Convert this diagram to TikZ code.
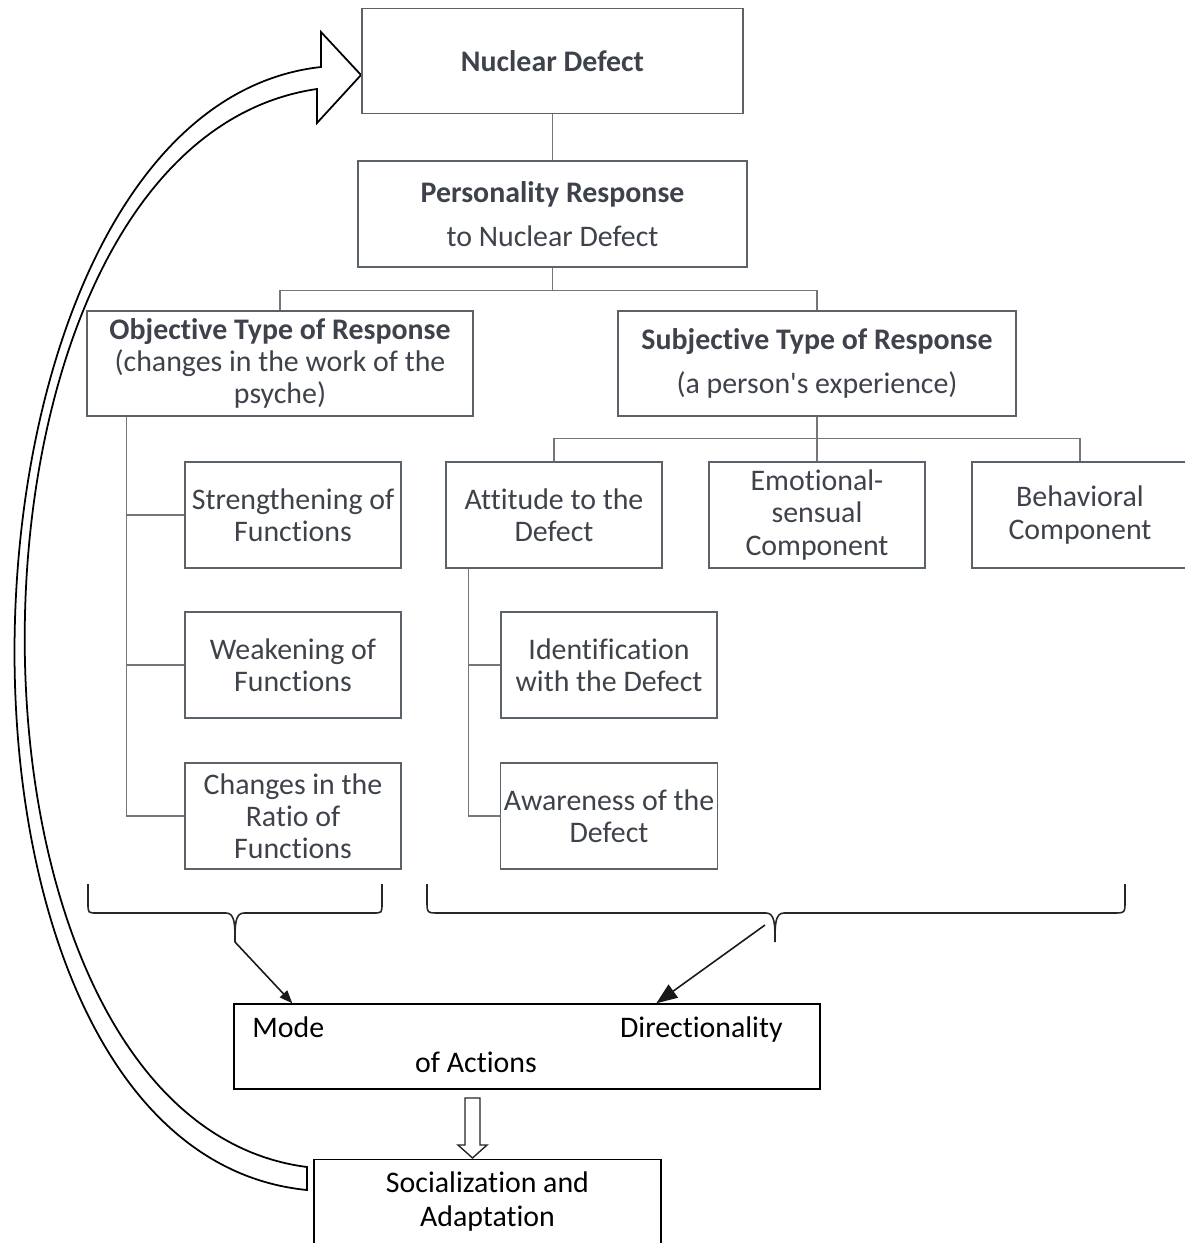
\documentclass[tikz,border=0pt]{standalone}
\usepackage{fontspec}
\setmainfont{Carlito}[Ligatures=NoCommon]
\usetikzlibrary{arrows.meta}
\definecolor{txtgray}{RGB}{62,66,74}
\definecolor{boxgray}{RGB}{92,98,106}
\definecolor{lnkgray}{RGB}{118,118,118}

\begin{document}
\begin{tikzpicture}[x=0.02cm,y=-0.02cm,
    box/.style={draw=boxgray,line width=0.8pt,text=txtgray,align=center,inner sep=2pt,
      font=\fontsize{17}{18.3}\selectfont},
    small/.style={box,minimum width=4.32cm,minimum height=2.12cm},
    link/.style={draw=lnkgray,line width=0.9pt},
    bbox/.style={draw=black,line width=0.8pt},
    btext/.style={text=black,inner sep=0pt,font=\fontsize{17}{18.3}\selectfont},
    brc/.style={draw=black!85,line width=0.9pt},
    arr/.style={draw=black!90,line width=0.9pt},
    bigarrow/.style={draw=black,line width=1pt,fill=white,line join=miter},
  ]
  \useasboundingbox (0,0) rectangle (1185,1243);

  % big curved arrow back to the top
  \draw[bigarrow] (307,1190) .. controls (-100,1150) and (-70,110) .. (321,67)
    -- (321,32) -- (361,75) -- (317,123) -- (317,89)
    .. controls (-68,145) and (-74,1118) .. (307,1167) -- cycle;

  \node[box,minimum width=7.62cm,minimum height=2.1cm] at (552.5,61) (nd) {\textbf{Nuclear Defect}};
  \node[box,minimum width=7.78cm,minimum height=2.12cm] at (552.5,214) (pr) {\textbf{Personality Response}\\[0.25cm]to Nuclear Defect};
  \node[box,minimum width=7.72cm,minimum height=2.1cm] at (280,363.5) (obj) {\textbf{Objective Type of Response}\\(changes in the work of the\\psyche)};
  \node[box,minimum width=7.96cm,minimum height=2.1cm] at (817,363.5) (subj) {\textbf{Subjective Type of Response}\\[0.25cm](a person\textquotesingle s experience)};

  \node[small] at (293,515) (str) {Strengthening of\\Functions};
  \node[small] at (293,665) (weak) {Weakening of\\Functions};
  \node[small] at (293,816) (chg) {Changes in the\\Ratio of\\Functions};

  \node[small] at (554,515) (att) {Attitude to the\\Defect};
  \node[small] at (817,515) (emo) {Emotional-\\sensual\\Component};
  \node[small] at (1080,515) (beh) {Behavioral\\Component};

  \node[small] at (609,665) (idf) {Identification\\with the Defect};
  \node[small] at (609,816) (awr) {Awareness of the\\Defect};

  \draw[link] (nd) -- (pr);
  \draw[link] (pr.south) -- ++(0,23) -| (obj.north);
  \draw[link] (pr.south) -- ++(0,23) -| (subj.north);
  \draw[link] (subj.south) -- ++(0,22) -| (att.north);
  \draw[link] (subj.south) -- (emo.north);
  \draw[link] (subj.south) -- ++(0,22) -| (beh.north);

  \coordinate (otrunk) at ([xshift=0.8cm]obj.south west);
  \draw[link] (otrunk) |- (str.west);
  \draw[link] (otrunk) |- (weak.west);
  \draw[link] (otrunk) |- (chg.west);

  \coordinate (atrunk) at ([xshift=0.46cm]att.south west);
  \draw[link] (atrunk) |- (idf.west);
  \draw[link] (atrunk) |- (awr.west);

  % braces under the two groups
  \draw[brc] (88,884) -- (88,903) .. controls (88,913) .. (97,913) -- (226,913)
    .. controls (235,913) and (235,925) .. (235,942)
    .. controls (235,925) and (235,913) .. (244,913) -- (373,913)
    .. controls (382,913) .. (382,903) -- (382,884);
  \draw[brc] (427,884) -- (427,901) .. controls (427,913) .. (439,913) -- (766,913)
    .. controls (775,913) and (775,925) .. (775,942)
    .. controls (775,925) and (775,913) .. (784,913) -- (1113,913)
    .. controls (1125,913) .. (1125,901) -- (1125,884);
  \coordinate (ltip) at (235,942);
  \coordinate (rtip) at (765,925);

  \node[bbox,minimum width=11.72cm,minimum height=1.7cm] at (527,1046.5) (mode) {};
  \node[btext,anchor=base west] at (252,1037) (mtxt) {Mode};
  \node[btext,anchor=base east] at (783,1037) (dtxt) {Directionality};
  \node[btext,anchor=base] at (476,1072) (atxt) {of Actions};

  \draw[arr,-{Triangle[length=0.26cm,width=0.2cm]}] (ltip) -- ([xshift=1.18cm]mode.north west);
  \draw[arr,-{Triangle[length=0.42cm,width=0.32cm]}] (rtip) -- ([xshift=8.46cm]mode.north west);

  \node[bbox,minimum width=6.94cm,minimum height=2.4cm,anchor=north] at (487.5,1159) (soc) {};
  \node[btext,align=center,anchor=north] at (487.5,1171) (stxt) {Socialization and\\[0.05cm]Adaptation};

  % hollow arrow from mode to soc
  \coordinate (dntop) at (472.5,1098);
  \draw[draw=black!85,line width=0.8pt,fill=white,line join=miter] (dntop) -- ++(7.5,0) -- ++(0,47)
    -- ++(7,0) -- ++(-14.5,13) -- ++(-14.5,-13) -- ++(7,0) -- ++(0,-47) -- cycle;
\end{tikzpicture}
\end{document}
